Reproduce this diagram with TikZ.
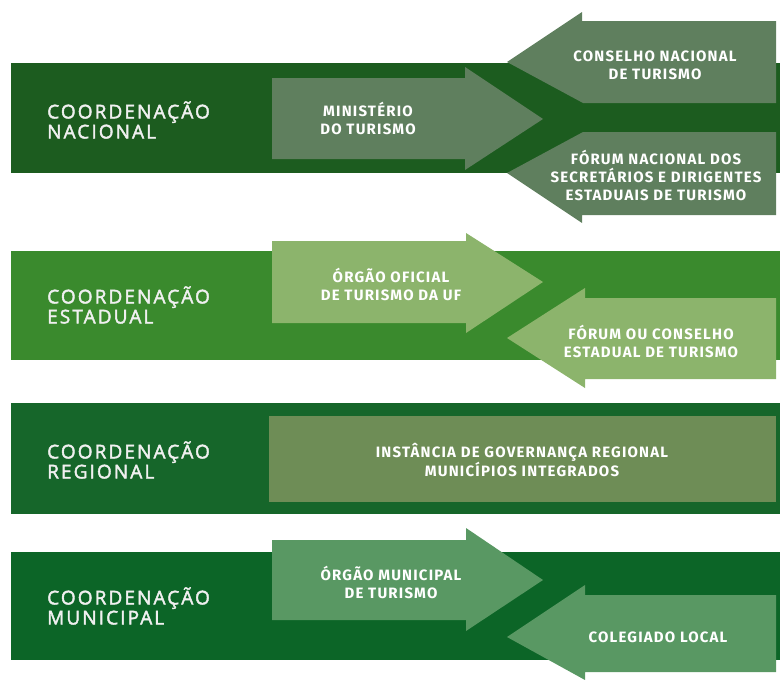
\documentclass[tikz,border=0pt]{standalone}
\usepackage{fontspec}
\setmainfont{Open Sans}
\newfontfamily\ebenefont[LetterSpace=11,FakeBold=2.2]{Open Sans}
\newfontfamily\kastenfont[LetterSpace=8]{Fira Sans}
\definecolor{nacband}{RGB}{28,92,31}
\definecolor{nacpfeil}{RGB}{95,127,94}
\definecolor{estband}{RGB}{58,138,45}
\definecolor{estpfeil}{RGB}{140,180,108}
\definecolor{regband}{RGB}{22,102,42}
\definecolor{regpfeil}{RGB}{110,141,86}
\definecolor{munband}{RGB}{12,101,39}
\definecolor{munpfeil}{RGB}{89,152,99}
\begin{document}
\begin{tikzpicture}[x=1pt,y=-1pt,
  ebene/.style={text=white!94!black, inner sep=0pt, anchor=west, align=left,
    font=\ebenefont\fontsize{19}{20}\selectfont},
  kastentext/.style={text=white, inner sep=0pt, align=center,
    font=\kastenfont\bfseries\fontsize{15}{18}\selectfont}]
\useasboundingbox (0,0) rectangle (780,680);
% Baender
\fill[nacband] (11,63) rectangle (780,173);
\fill[estband] (11,251) rectangle (780,360);
\fill[regband] (11,403) rectangle (780,514);
\fill[munband] (11,552) rectangle (780,660);
% Pfeile nacional
\fill[nacpfeil] (272,78) -- (465,78) -- (465,67) -- (543,119) -- (465,170) -- (465,159) -- (272,159) -- cycle;
\fill[nacpfeil] (507,62) -- (582,12) -- (582,21) -- (776,21) -- (776,103) -- (583,103) -- cycle;
\fill[nacpfeil] (507,173) -- (583,132) -- (776,132) -- (776,215) -- (582,215) -- (582,223) -- cycle;
% Pfeile estadual
\fill[estpfeil] (272,241) -- (466,241) -- (466,233) -- (543,282) -- (466,333) -- (466,323) -- (272,323) -- cycle;
\fill[estpfeil] (507,338) -- (585,288) -- (585,298) -- (776,298) -- (776,379) -- (585,379) -- (585,388) -- cycle;
% Kasten regional
\fill[regpfeil] (269,416) rectangle (776,502);
% Pfeile municipal
\fill[munpfeil] (272,540) -- (466,540) -- (466,528) -- (543,580) -- (466,631) -- (466,620) -- (272,620) -- cycle;
\fill[munpfeil] (507,637) -- (585,585) -- (585,595) -- (776,595) -- (776,672) -- (585,672) -- (585,680) -- cycle;
% Beschriftung
\node[ebene] (nac) at (47,120) {COORDENAÇÃO\\NACIONAL};
\node[ebene] (est) at (47,305) {COORDENAÇÃO\\ESTADUAL};
\node[ebene] (reg) at (47,460) {COORDENAÇÃO\\REGIONAL};
\node[ebene] (mun) at (47,606) {COORDENAÇÃO\\MUNICIPAL};
\node[kastentext] (min) at (368,118) {MINISTÉRIO\\DO TURISMO};
\node[kastentext] (cnt) at (655,65) {CONSELHO NACIONAL\\DE TURISMO};
\node[kastentext] (fnd) at (656,175) {FÓRUM NACIONAL DOS\\SECRETÁRIOS E DIRIGENTES\\ESTADUAIS DE TURISMO};
\node[kastentext] (oot) at (391,284) {ÓRGÃO OFICIAL\\DE TURISMO DA UF};
\node[kastentext] (fce) at (651,341) {FÓRUM OU CONSELHO\\ESTADUAL DE TURISMO};
\node[kastentext] (igr) at (522,460) {INSTÂNCIA DE GOVERNANÇA REGIONAL\\MUNICÍPIOS INTEGRADOS};
\node[kastentext] (omt) at (391,582) {ÓRGÃO MUNICIPAL\\DE TURISMO};
\node[kastentext] (col) at (658,637) {COLEGIADO LOCAL};
\end{tikzpicture}
\end{document}
